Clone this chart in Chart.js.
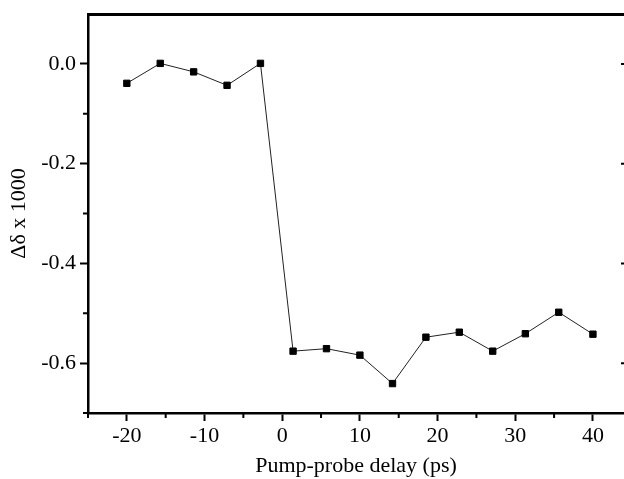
<!DOCTYPE html>
<html>
<head>
<meta charset="utf-8">
<script src="https://cdn.jsdelivr.net/npm/chart.js@4/dist/chart.umd.min.js"></script>
<style>
  html, body { margin: 0; padding: 0; background: #fff; overflow: hidden; }
</style>
</head>
<body>
<canvas id="chart" width="624" height="479"></canvas>
<script>
// pump-probe delay (ps) and signal (Δδ x 1000)
const delays = [-20, -15.7, -11.4, -7.1, -2.8, 1.4, 5.7, 10.0, 14.2, 18.5, 22.8, 27.1, 31.3, 35.6, 40.0];
const signal = [-0.039, 0.001, -0.016, -0.043, 0.001, -0.576, -0.571, -0.584, -0.641, -0.548, -0.538, -0.576, -0.541, -0.498, -0.542];

const xMajorTicks = [-20, -10, 0, 10, 20, 30, 40];
const xMinorTicks = [-25, -15, -5, 5, 15, 25, 35];
const yMajorTicks = [0, -0.2, -0.4, -0.6];
const yMinorTicks = [-0.1, -0.3, -0.5, -0.7];

// minor ticks, top frame and the tick stubs of the (cut off) right frame
const axisExtras = {
  id: 'axisExtras',
  afterDraw(chart) {
    const { ctx, chartArea: a, scales: { x, y } } = chart;
    ctx.save();
    ctx.strokeStyle = '#000';
    ctx.lineWidth = 2;
    ctx.beginPath();
    xMinorTicks.forEach(v => {
      const px = x.getPixelForValue(v);
      ctx.moveTo(px, a.bottom);
      ctx.lineTo(px, a.bottom + 5);
    });
    yMinorTicks.forEach(v => {
      const py = y.getPixelForValue(v);
      ctx.moveTo(a.left - 5, py);
      ctx.lineTo(a.left, py);
    });
    yMajorTicks.forEach(v => {
      const py = y.getPixelForValue(v);
      ctx.moveTo(a.right - 3, py);
      ctx.lineTo(a.right, py);
    });
    ctx.stroke();

    ctx.lineWidth = 3;
    ctx.beginPath();
    ctx.moveTo(a.left - 1, a.top + 0.5);
    ctx.lineTo(a.right, a.top + 0.5);
    ctx.stroke();
    ctx.restore();
  }
};

Chart.defaults.font.family = '"Liberation Serif", "Times New Roman", serif';
Chart.defaults.color = '#000';

new Chart(document.getElementById('chart'), {
  type: 'line',
  data: {
    datasets: [{
      data: delays.map((d, i) => ({ x: d, y: signal[i] })),
      borderColor: '#222',
      borderWidth: 1,
      tension: 0,
      pointStyle: 'rect',
      pointRadius: 4.5,
      pointBackgroundColor: '#000',
      pointBorderColor: '#000',
      pointBorderWidth: 1,
    }],
  },
  options: {
    responsive: false,
    animation: false,
    layout: { autoPadding: false, padding: { top: 14, right: 0, bottom: 0, left: 0 } },
    plugins: {
      legend: { display: false },
      tooltip: { enabled: false },
    },
    scales: {
      x: {
        type: 'linear',
        min: -25,
        max: 44,
        afterBuildTicks: s => { s.ticks = xMajorTicks.map(v => ({ value: v })); },
        afterFit: s => { s.height = 66; s.paddingLeft = 0; s.paddingRight = 0; },
        grid: { drawOnChartArea: false, drawTicks: true, tickLength: 8, tickWidth: 2, tickColor: '#000' },
        border: { display: true, color: '#000', width: 2.5 },
        ticks: {
          font: { size: 22 },
          padding: 2,
          maxRotation: 0,
          callback: v => String(v),
        },
        title: {
          display: true,
          text: 'Pump-probe delay (ps)',
          font: { size: 22 },
          padding: { top: 0, bottom: 0 },
        },
      },
      y: {
        type: 'linear',
        min: -0.7,
        max: 0.1,
        afterBuildTicks: s => { s.ticks = yMajorTicks.map(v => ({ value: v })); },
        afterFit: s => { s.width = 88; s.paddingTop = 0; s.paddingBottom = 0; },
        grid: { drawOnChartArea: false, drawTicks: true, tickLength: 8, tickWidth: 2, tickColor: '#000' },
        border: { display: true, color: '#000', width: 2.5 },
        ticks: {
          font: { size: 22 },
          padding: 4,
          callback: v => v.toFixed(1),
        },
        title: {
          display: true,
          text: 'Δδ x 1000',
          font: { size: 22 },
          padding: { top: 6, bottom: 0 },
        },
      },
    },
  },
  plugins: [axisExtras],
});
</script>
</body>
</html>
